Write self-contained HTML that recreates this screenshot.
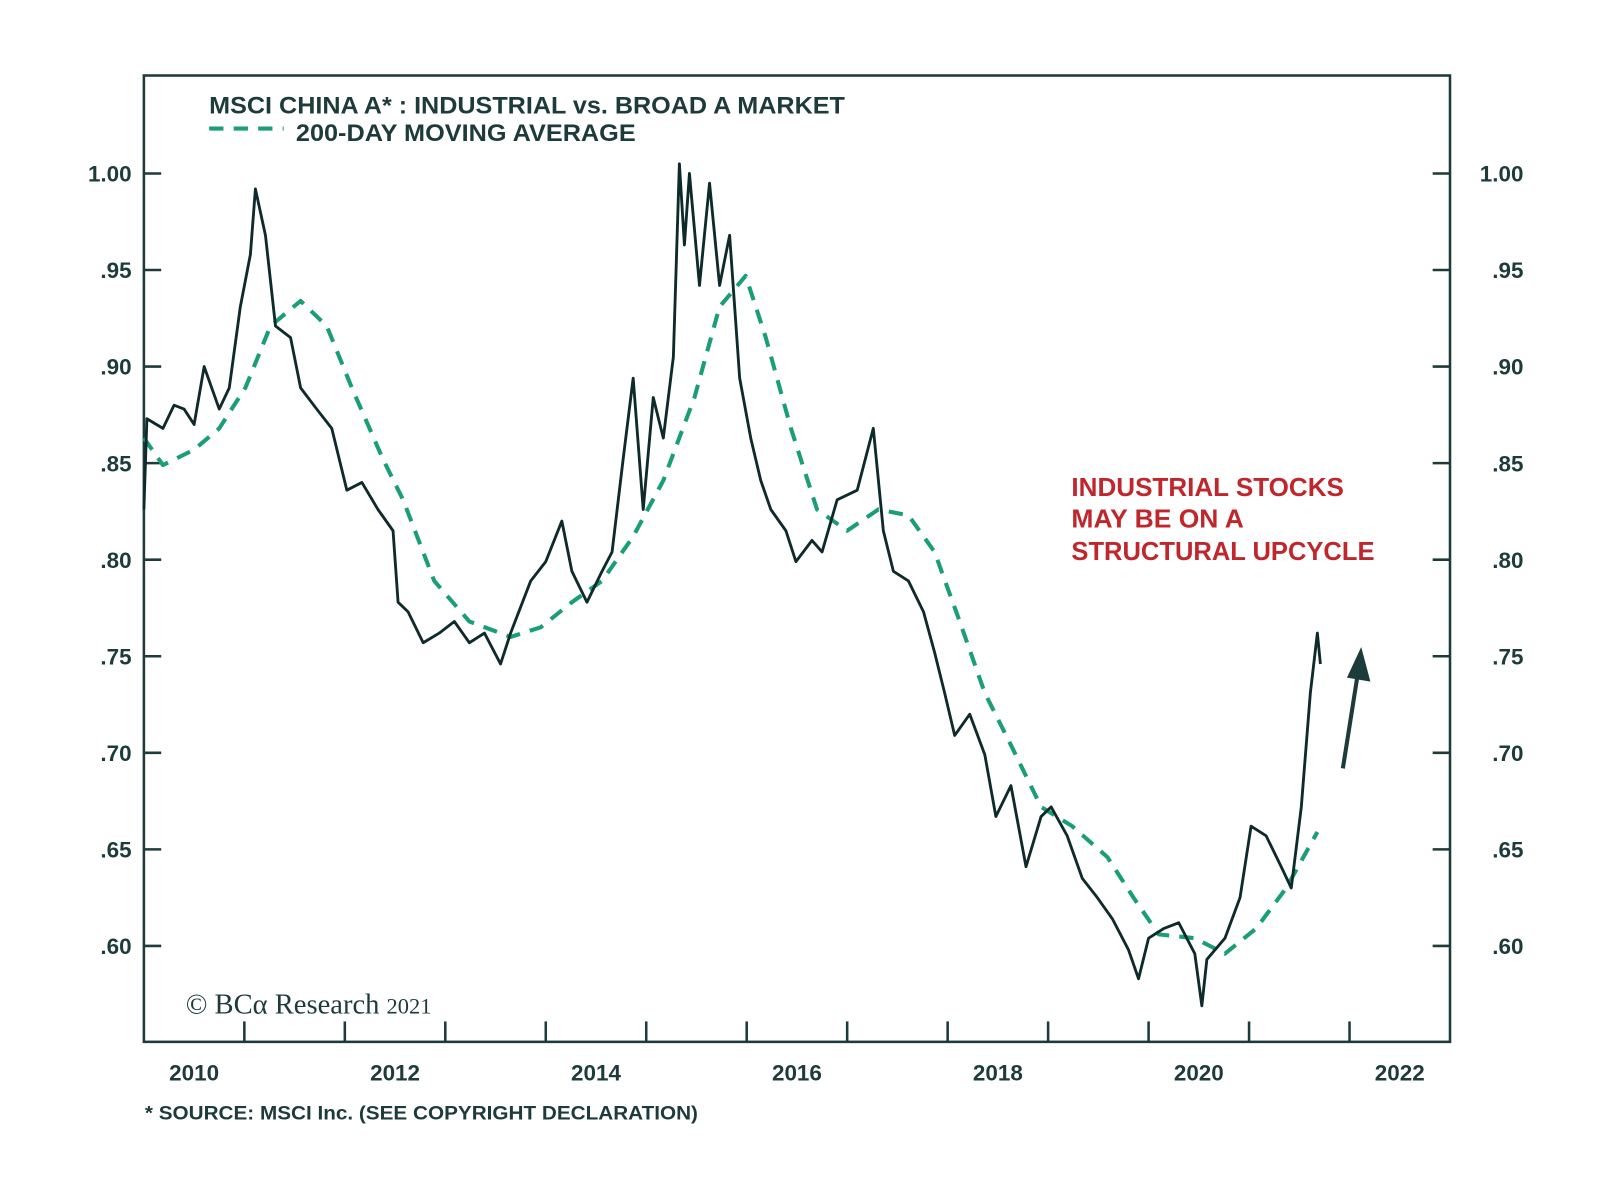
<!DOCTYPE html>
<html><head><meta charset="utf-8"><style>
html,body{margin:0;padding:0;background:#fff;}
svg{display:block;}
text{font-family:"Liberation Sans Narrow","Liberation Sans",sans-serif;font-weight:bold;}
</style></head><body>
<svg id="chart" width="1600" height="1184" viewBox="0 0 1568 1160.3" preserveAspectRatio="none" xmlns="http://www.w3.org/2000/svg">
<rect x="141" y="74" width="1280" height="947" fill="none" stroke="#1d3b3a" stroke-width="2.5"/>
<g id="axes"></g>
<text x="205" y="111" font-size="24" fill="#1d3b3a" textLength="623" lengthAdjust="spacingAndGlyphs">MSCI CHINA A* : INDUSTRIAL vs. BROAD A MARKET</text>
<line x1="205" y1="126" x2="278" y2="126" stroke="#1a9e77" stroke-width="4" stroke-dasharray="14 10"/>
<text x="290" y="138" font-size="24" fill="#1d3b3a" textLength="333" lengthAdjust="spacingAndGlyphs">200-DAY MOVING AVERAGE</text>
<g fill="#c0272d" font-size="25">
<text x="1050" y="486" textLength="267" lengthAdjust="spacingAndGlyphs">INDUSTRIAL STOCKS</text>
<text x="1050" y="517" textLength="169" lengthAdjust="spacingAndGlyphs">MAY BE ON A</text>
<text x="1050" y="549" textLength="297" lengthAdjust="spacingAndGlyphs">STRUCTURAL UPCYCLE</text>
</g>
<line x1="1316" y1="753" x2="1331" y2="658" stroke="#1d3b3a" stroke-width="4"/>
<polygon points="1334,634 1343,668 1320,664" fill="#1d3b3a"/>
<text x="182" y="993" font-size="28" fill="#1d3b3a" style="font-family:'Liberation Serif',serif;font-weight:normal">© BCα Research <tspan font-size="22">2021</tspan></text>
<text x="142" y="1097" font-size="19" fill="#1d3b3a" textLength="542" lengthAdjust="spacingAndGlyphs">* SOURCE: MSCI Inc. (SEE COPYRIGHT DECLARATION)</text>
<g id="series"></g>
</svg>
<script>
const yTicks=[1.00,0.95,0.90,0.85,0.80,0.75,0.70,0.65,0.60];
const yTickLabels=["1.00",".95",".90",".85",".80",".75",".70",".65",".60"];
const xYears=[2010,2011,2012,2013,2014,2015,2016,2017,2018,2019,2020,2021,2022];
const xLabels=["2010","2012","2014","2016","2018","2020","2022"];
const priceDates=[2010.0,2010.03,2010.19,2010.3,2010.4,2010.5,2010.6,2010.75,2010.85,2010.96,2011.06,2011.11,2011.21,2011.31,2011.46,2011.56,2011.72,2011.87,2012.02,2012.17,2012.33,2012.48,2012.53,2012.63,2012.78,2012.94,2013.09,2013.24,2013.39,2013.55,2013.65,2013.85,2014.0,2014.16,2014.26,2014.41,2014.56,2014.66,2014.77,2014.87,2014.97,2015.07,2015.17,2015.27,2015.33,2015.38,2015.43,2015.53,2015.63,2015.73,2015.83,2015.93,2016.04,2016.14,2016.24,2016.39,2016.49,2016.65,2016.75,2016.9,2017.1,2017.26,2017.36,2017.46,2017.61,2017.76,2017.87,2017.97,2018.07,2018.22,2018.37,2018.48,2018.63,2018.78,2018.93,2019.03,2019.19,2019.34,2019.49,2019.64,2019.8,2019.9,2020.0,2020.15,2020.3,2020.46,2020.53,2020.58,2020.76,2020.91,2021.02,2021.17,2021.32,2021.42,2021.52,2021.61,2021.68,2021.71];
const priceValues=[0.826,0.873,0.868,0.880,0.878,0.870,0.900,0.878,0.889,0.931,0.958,0.992,0.968,0.921,0.915,0.889,0.878,0.868,0.836,0.840,0.826,0.815,0.778,0.773,0.757,0.762,0.768,0.757,0.762,0.746,0.762,0.789,0.799,0.820,0.794,0.778,0.794,0.804,0.852,0.894,0.826,0.884,0.863,0.905,1.005,0.963,1.000,0.942,0.995,0.942,0.968,0.894,0.863,0.841,0.826,0.815,0.799,0.810,0.804,0.831,0.836,0.868,0.815,0.794,0.789,0.773,0.752,0.731,0.709,0.720,0.699,0.667,0.683,0.641,0.667,0.672,0.657,0.635,0.625,0.614,0.598,0.583,0.604,0.609,0.612,0.596,0.569,0.593,0.604,0.625,0.662,0.657,0.641,0.630,0.672,0.731,0.762,0.746];
const maDates=[2010.0,2010.19,2010.5,2010.75,2011.01,2011.26,2011.56,2011.82,2012.07,2012.38,2012.58,2012.89,2013.24,2013.65,2013.95,2014.26,2014.56,2014.87,2015.17,2015.48,2015.73,2015.99,2016.19,2016.44,2016.7,2017.0,2017.31,2017.61,2017.87,2018.12,2018.37,2018.63,2018.93,2019.24,2019.59,2019.85,2020.1,2020.46,2020.76,2021.07,2021.37,2021.68];
const maValues=[0.863,0.849,0.857,0.868,0.889,0.921,0.934,0.921,0.889,0.852,0.831,0.789,0.768,0.760,0.765,0.778,0.789,0.812,0.841,0.884,0.931,0.947,0.915,0.868,0.826,0.815,0.826,0.823,0.804,0.768,0.731,0.704,0.672,0.662,0.646,0.625,0.606,0.604,0.596,0.609,0.630,0.659];
const X0=141,X1=1421,Y0=74,Y1=1021;
const xS=t=>X0+(t-2010)*(X1-X0)/13;
const yS=v=>170+(1-v)*(927-170)/0.4;
const NS="http://www.w3.org/2000/svg";
function mk(tag,attrs,parent){const e=document.createElementNS(NS,tag);for(const k in attrs)e.setAttribute(k,attrs[k]);parent.appendChild(e);return e;}
const axes=document.getElementById('axes');
yTicks.forEach((v,i)=>{const y=yS(v);
 const l=mk('line',{x1:X0,x2:X0+17,y1:y,y2:y,stroke:'#1d3b3a','stroke-width':2.5},axes);
 
 
 const r=mk('line',{x1:X1-17,x2:X1,y1:y,y2:y,stroke:'#1d3b3a','stroke-width':2.5},axes);
 
 
 const tl=mk('text',{x:129,y:y+8,'text-anchor':'end','font-size':22,fill:'#1d3b3a'},axes);tl.textContent=yTickLabels[i];
 
 
 const tr=mk('text',{x:1493,y:y+8,'text-anchor':'end','font-size':22,fill:'#1d3b3a'},axes);tr.textContent=yTickLabels[i];
 
 
});
xYears.forEach(yr=>{if(yr===2010)return;const x=xS(yr);
 const l=mk('line',{x1:x,x2:x,y1:Y1-20,y2:Y1,stroke:'#1d3b3a','stroke-width':2.5},axes);
 
 
});
xLabels.forEach(s=>{const x=xS(+s+0.5);
 const t=mk('text',{x:x,y:1059,'text-anchor':'middle','font-size':22,fill:'#1d3b3a'},axes);t.textContent=s;
 
 
});
const series=document.getElementById('series');
const ma=mk('polyline',{points:maDates.map((d,i)=>xS(d)+','+yS(maValues[i])).join(' '),fill:'none',stroke:'#1a9e77','stroke-width':4,'stroke-dasharray':'14 10','stroke-linejoin':'round'},series);


const pr=mk('polyline',{points:priceDates.map((d,i)=>xS(d)+','+yS(priceValues[i])).join(' '),fill:'none',stroke:'#0f2a2a','stroke-width':2.8,'stroke-linejoin':'round'},series);


</script>
</body></html>
